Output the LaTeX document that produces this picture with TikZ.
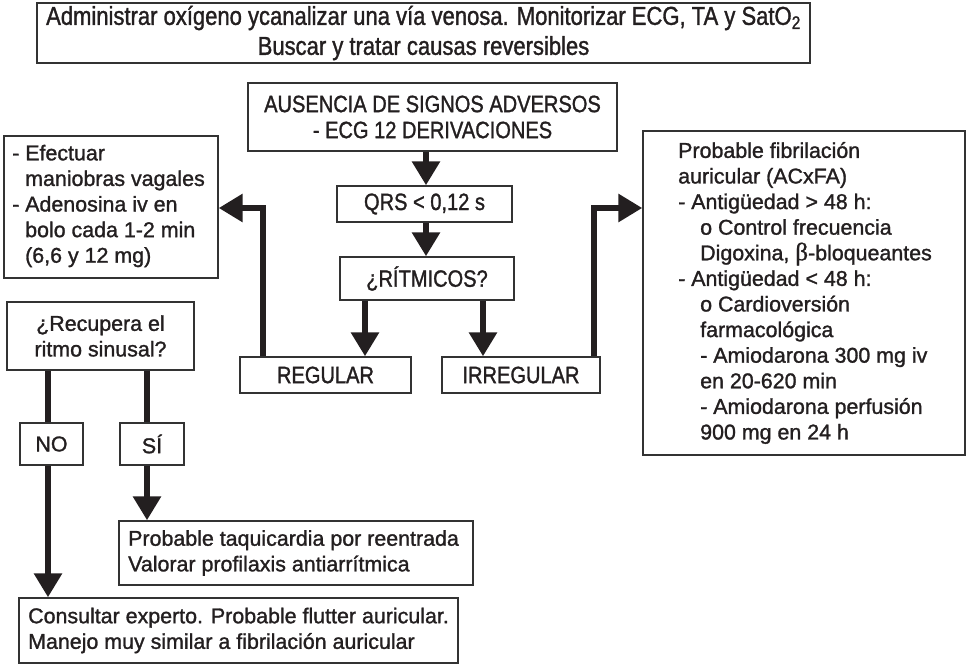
\documentclass[tikz,border=0pt]{standalone}
\usepackage{fontspec}
\setmainfont[FakeBold=1.3]{Liberation Sans}
\newfontfamily\condfont[FakeStretch=0.85,FakeBold=1.3]{Liberation Sans}
\newfontfamily\greekfont[FakeBold=1.0]{Liberation Serif}
\usetikzlibrary{arrows.meta,calc}
\definecolor{ink}{HTML}{231F20}
\definecolor{frame}{HTML}{333333}
\newcommand\normaltext{\fontsize{21.4}{25.6}\selectfont}
\newcommand\headtext{\condfont\fontsize{25.9}{30}\selectfont}
\newcommand\condtext{\condfont\fontsize{23.6}{26}\selectfont}
\tikzset{
  box/.style={draw=frame, line width=1.4pt, inner sep=0pt, text=ink, font=\normaltext, align=center},
  condbox/.style={box, font=\condtext},
  headbox/.style={box, font=\headtext},
  txt/.style={inner sep=0pt, text=ink, font=\normaltext, align=left, anchor=west},
  flow/.style={draw=ink, line width=6pt, line join=miter,
    -{Triangle[width=27pt,length=24pt]}},
  plain/.style={draw=ink, line width=6pt}
}
% box from corner (x1,y1) to corner (x2,y2), pixel-like units with y downwards
\newcommand\flowbox[7][box]{%
  \node[#1, minimum width={#5-#3}, minimum height={#6-#4}] (#2)
    at ({(#3+#5)/2},{(#4+#6)/2}) {#7};}
\begin{document}
\begin{tikzpicture}[x=1pt,y=-1pt]
\useasboundingbox (0,0) rectangle (968,666);

% boxes
\flowbox[headbox]{top}{37}{3}{810}{63}{Administrar oxígeno ycanalizar una vía venosa. Monitorizar ECG, TA y SatO\textsubscript{2}\\Buscar y tratar causas reversibles}
\flowbox[condbox]{aus}{248}{83}{617}{151}{AUSENCIA DE SIGNOS ADVERSOS\\- ECG 12 DERIVACIONES}
\flowbox[condbox]{qrs}{337}{186}{512}{222}{QRS < 0,12 s}
\flowbox[condbox]{rit}{340}{257}{514}{300}{¿RÍTMICOS?}
\flowbox[condbox]{reg}{240}{357}{411}{393}{REGULAR}
\flowbox[condbox]{irr}{442}{357}{600}{393}{IRREGULAR}
\flowbox{lbox}{4}{136}{218}{278}{}
\flowbox{rbox}{643}{131}{965}{455}{}
\flowbox{rec}{7}{302}{194}{370}{¿Recupera el\\ritmo sinusal?}
\flowbox{no}{20}{423}{83}{465}{NO}
\flowbox{si}{120}{423}{184}{465}{SÍ}
\flowbox{taq}{119}{521}{473}{585}{}
\flowbox{con}{19}{598}{458}{663}{}

% box texts set flush left
\node[txt] (lbox-t) at (12,206) {- Efectuar\\\hspace*{13pt}maniobras vagales\\- Adenosina iv en\\\hspace*{13pt}bolo cada 1-2 min\\\hspace*{13pt}(6,6 y 12 mg)};
\node[txt] (rbox-t) at (678,293) {Probable fibrilación\\auricular (ACxFA)\\- Antigüedad > 48 h:\\\hspace*{22pt}o Control frecuencia\\\hspace*{22pt}Digoxina, {\greekfont\fontsize{25}{25}\selectfont β}-bloqueantes\\- Antigüedad < 48 h:\\\hspace*{22pt}o Cardioversión\\\hspace*{22pt}farmacológica\\\hspace*{22pt}- Amiodarona 300 mg iv\\\hspace*{22pt}en 20-620 min\\\hspace*{22pt}- Amiodarona perfusión\\\hspace*{22pt}900 mg en 24 h};
\node[txt] (taq-t) at (128,553) {Probable taquicardia por reentrada\\Valorar profilaxis antiarrítmica};
\node[txt] (con-t) at (28,630.5) {Consultar experto. Probable flutter auricular.\\Manejo muy similar a fibrilación auricular};

% guide coordinates for the connectors
\coordinate (colX) at (426,0);
\coordinate (regX) at (365,0);
\coordinate (irrX) at (483,0);
\coordinate (backL) at (263,0);
\coordinate (backR) at (594,0);
\coordinate (sideY) at (0,208);
\coordinate (noX) at (48,0);
\coordinate (siX) at (147,0);

% connectors
\draw[flow] (aus.south -| colX) -- (qrs.north -| colX);
\draw[flow] (qrs.south -| colX) -- (rit.north -| colX);
\draw[flow] (rit.south -| regX) -- (reg.north -| regX);
\draw[flow] (rit.south -| irrX) -- (irr.north -| irrX);
\draw[flow] (reg.north -| backL) -- (backL |- sideY) -- (lbox.east |- sideY);
\draw[flow] (irr.north -| backR) -- (backR |- sideY) -- (rbox.west |- sideY);
\draw[plain] (rec.south -| noX) -- (no.north -| noX);
\draw[plain] (rec.south -| siX) -- (si.north -| siX);
\draw[flow] (no.south -| noX) -- (con.north -| noX);
\draw[flow] (si.south -| siX) -- (taq.north -| siX);
\end{tikzpicture}
\end{document}
